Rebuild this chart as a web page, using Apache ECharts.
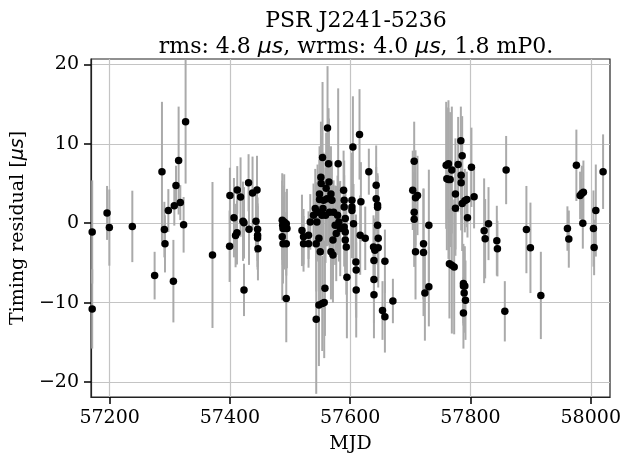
<!DOCTYPE html>
<html>
<head>
<meta charset="utf-8">
<script src="https://cdn.jsdelivr.net/npm/echarts@6/dist/echarts.min.js"></script>
<style>html,body{margin:0;padding:0;background:#fff}#c{width:625px;height:463px}</style>
</head>
<body>
<div id="c"></div>
<script>
// Timing residuals of PSR J2241-5236
const mjd = [
57171,57171,57195.7,57199.5,57237.7,57274.8,57287,57291,57292,57297.6,
57306,57307.5,57310.3,57314.7,57317.5,57323,57326.3,57371,57399.5,57400,
57406.7,57409.4,57411.7,57412.2,57417.7,57421.7,57423.4,57423.4,57431,57431.7,
57437.6,57443.3,57445,57446,57446,57446,57446.6,
57487,57490.3,57493.7,57487.7,57488.3,57494.8,57487,57488.3,57493.7,57493.7,
57519.8,57522.4,57522.4,57530.7,57530.7,57533.6,57539,57541.9,57543.5,57543.5,
57544.6,57545.7,57548,57548,57549,57549,57550.2,57551.3,57551.8,57553,
57553.5,57554,57554.7,57555.7,57556.8,57558,57559,57560,57561.3,57562.3,
57564,57564.6,57565.6,57568,57568,57569.6,57571.3,57571.3,57572.4,57575,
57576.8,57579,57580,57581.3,57583.4,57589,57590,57590,57590,57591.8,
57591.8,57591.8,57593.5,57594.5,57602.9,57602.9,57602.9,57604.5,57605.5,57609.5,
57610,57610,57615.5,57617.8,57616.6,57625,57631,57638.8,57639.5,57639.5,
57639.5,57641,57643.2,57643.2,57645.5,57645.5,57645.5,57646.6,57646.6,57653.7,
57657.7,57657.7,57671,57704,57706.4,57708.6,57711.9,57706.4,57706.4,57708.6,
57721.9,57721.9,57724.2,57730.8,57730.8,
57759.6,57760.7,57763.4,57766.2,57763.4,57765,57769,57769,57772.9,57775,
57775,57779.5,57784,57784.5,57784.5,57786.2,57786.2,57788.3,57788.3,57790.6,
57789.5,57791.7,57788.3,57790.6,57794,57795,57801.6,57806,57822.7,57824.4,
57830,57843.8,57844.8,57857.1,57859.3,57893,57899.7,57917,57961.2,57963.5,
57976.1,57982.3,57985.1,57987.8,57986.8,58004.5,58005.6,58008.4,58020.5
];
const residual = [
-1.1,-10.8,1.3,-0.55,-0.4,-6.6,6.5,-0.8,-2.6,1.6,
-7.3,2.2,4.75,7.9,2.6,-0.2,12.8,-4.0,-2.9,3.5,
0.7,-1.55,-1.2,4.2,3.3,0.25,0.05,-8.4,5.1,-0.75,
3.8,0.25,4.2,-0.75,-1.5,-1.85,-3.2,
0.38,0.17,-0.05,-0.25,-0.67,-0.67,-1.7,-2.6,-2.6,-9.5,
-0.9,-1.7,-2.6,-1.5,-2.6,0.17,1.0,1.85,-2.6,-12.1,
0.17,1.4,-1.9,-10.3,3.7,3.0,-3.6,5.8,5.0,1.0,
-10.1,8.3,1.85,2.9,-10.0,-8.2,1.0,4.4,3.1,12.0,
7.5,5.2,1.4,3.7,-3.6,2.9,-2.1,-4.0,1.4,-0.25,
-1.3,1.0,7.5,0.17,-0.67,4.15,2.9,2.05,-0.46,0.6,
-1.1,-2.1,-3.0,-6.8,2.9,2.05,1.6,9.6,-0.05,-4.9,
-5.9,-8.4,11.2,2.7,-1.5,-1.9,6.5,-3.0,-4.7,-7.1,
-9.0,-3.4,4.8,3.1,2.3,2.0,-0.25,-1.9,-3.1,-11.0,
-4.8,-11.8,-9.8,4.15,7.8,3.2,3.5,1.4,0.5,-3.6,
-2.6,-3.7,-8.8,-8.0,-0.25,
7.3,5.6,5.5,5.5,7.5,-5.1,6.7,-5.3,-5.5,3.7,
1.9,7.4,10.4,6.05,5.1,8.5,2.5,-7.6,-7.9,-7.9,
-8.8,-9.7,-11.3,2.85,3.0,0.7,7.05,3.35,-0.95,-1.95,
-0.05,-2.2,-3.2,-11.1,6.7,-0.8,-3.1,-9.1,-0.67,-2.0,
7.3,3.5,3.75,3.9,0.0,-0.67,-3.05,1.6,6.5
];
const uncertainty = [
6.5,5,3.4,4.8,4.5,3.0,8.8,3.5,3.6,2.7,
5.2,2.5,2.5,6.8,2.2,3.5,7.8,9.2,4.5,3.5,
5,4,4,3,5,5,4.5,3.3,3.6,4.5,
4.6,4,4.3,4,4,4,4,
5,6,4,5,4,5,8,5,4,5.5,
4.5,3.5,3.5,3,3,3.5,4,5,6,9.4,
5,6,8,7.7,6,5,7,7,6,5,
6,9.5,5,6,7,6,6,7,6,7.8,
7,8,5,6,6,5,5,6,4,5,
6,5,9.5,5,6,5,5,4,5,4,
5,5,6,7.7,6,5,6,6.4,5,6,
6,6,5.7,5,5,4,2.9,4,5,5.5,
5.5,4,5,4,4,4,5,5,5,3.7,
4,4.5,2.8,5,5,6,5,5,6,6,
7,8,6,5,7,
8,9,10,8.5,7,6.9,8,8.6,8.5,7,
6,6,4.3,5,6,5,6,5,5,5,
5,5,4.5,4,3.5,2.5,5,4,6.6,5,
4.6,4.4,3.5,3.8,4.3,5.5,5.7,5.5,2.8,3.6,
4.5,3,3.5,4,3.2,4.8,3.5,5.8,4.7
];
const xTicks = [57200, 57400, 57600, 57800, 58000];
const yTicks = [-20, -10, 0, 10, 20];

const points = mjd.map((m, i) => [m, residual[i]]);
const bars = mjd.map((m, i) => [m, residual[i] - uncertainty[i], residual[i] + uncertainty[i]]);

const FONT = 'DejaVu Serif';
const chart = echarts.init(document.getElementById('c'), null, {renderer: 'canvas'});
const fmtMinus = v => v < 0 ? '\u2212' + (-v) : String(v);

chart.setOption({
  animation: false,
  backgroundColor: '#fff',
  title: {
    text: 'PSR J2241-5236\n{r|rms: 4.8 }{i|μs}{r|, wrms: 4.0 }{i|μs}{r|, 1.8 mP0.}',
    left: 351, top: 3, textAlign: 'center',
    textStyle: {
      fontFamily: FONT, fontSize: 22, fontWeight: 'normal', color: '#000', lineHeight: 26,
      rich: {
        r: {fontFamily: FONT, fontSize: 22, color: '#000', lineHeight: 26},
        i: {fontFamily: 'DejaVu Sans', fontStyle: 'italic', fontSize: 22, color: '#000', lineHeight: 26}
      }
    }
  },
  grid: {left: 91, right: 15, top: 59, bottom: 66, show: true, borderColor: '#222', borderWidth: 1.2, backgroundColor: 'transparent'},
  xAxis: {
    type: 'value', min: 57169, max: 58032,
    name: 'MJD', nameLocation: 'middle', nameGap: 38,
    nameTextStyle: {fontFamily: FONT, fontSize: 19, color: '#000'},
    axisLine: {show: true, onZero: false, lineStyle: {color: '#222', width: 1.2}},
    axisTick: {show: true, inside: false, length: 7, lineStyle: {color: '#000', width: 1.5}, customValues: xTicks},
    axisLabel: {fontFamily: FONT, fontSize: 19, color: '#000', margin: 12, customValues: xTicks, formatter: v => String(v)},
    splitLine: {show: true, lineStyle: {color: '#c4c4c4', width: 1.2}}
  },
  yAxis: {
    type: 'value', min: -21.9, max: 20.7,
    name: 'Timing residual [{i|μs}]', nameLocation: 'middle', nameGap: 63,
    nameTextStyle: {fontFamily: FONT, fontSize: 19, color: '#000',
      rich: {i: {fontFamily: 'DejaVu Sans', fontStyle: 'italic', fontSize: 19, color: '#000'}}},
    axisLine: {show: true, onZero: false, lineStyle: {color: '#222', width: 1.2}},
    axisTick: {show: true, inside: false, length: 7, lineStyle: {color: '#000', width: 1.5}, customValues: yTicks},
    axisLabel: {fontFamily: FONT, fontSize: 19, color: '#000', margin: 12, customValues: yTicks, formatter: fmtMinus},
    splitLine: {show: true, lineStyle: {color: '#c4c4c4', width: 1.2}}
  },
  series: [
    {
      type: 'custom',
      data: bars,
      encode: {x: 0, y: [1, 2]},
      silent: true,
      z: 2,
      renderItem: function (params, api) {
        const x = api.value(0);
        const lo = api.coord([x, api.value(1)]);
        const hi = api.coord([x, api.value(2)]);
        const cs = params.coordSys;
        const top = cs.y, bot = cs.y + cs.height;
        if (lo[0] < cs.x || lo[0] > cs.x + cs.width) return null;
        const y1 = Math.min(Math.max(hi[1], top), bot);
        const y2 = Math.min(Math.max(lo[1], top), bot);
        return {
          type: 'line',
          shape: {x1: lo[0], y1: y1, x2: lo[0], y2: y2},
          style: {stroke: '#aaaaaa', lineWidth: 2}
        };
      }
    },
    {
      type: 'scatter',
      data: points,
      symbol: 'circle',
      symbolSize: 7.5,
      itemStyle: {color: '#000', opacity: 1},
      z: 3,
      clip: true
    }
  ]
});
</script>
</body>
</html>
